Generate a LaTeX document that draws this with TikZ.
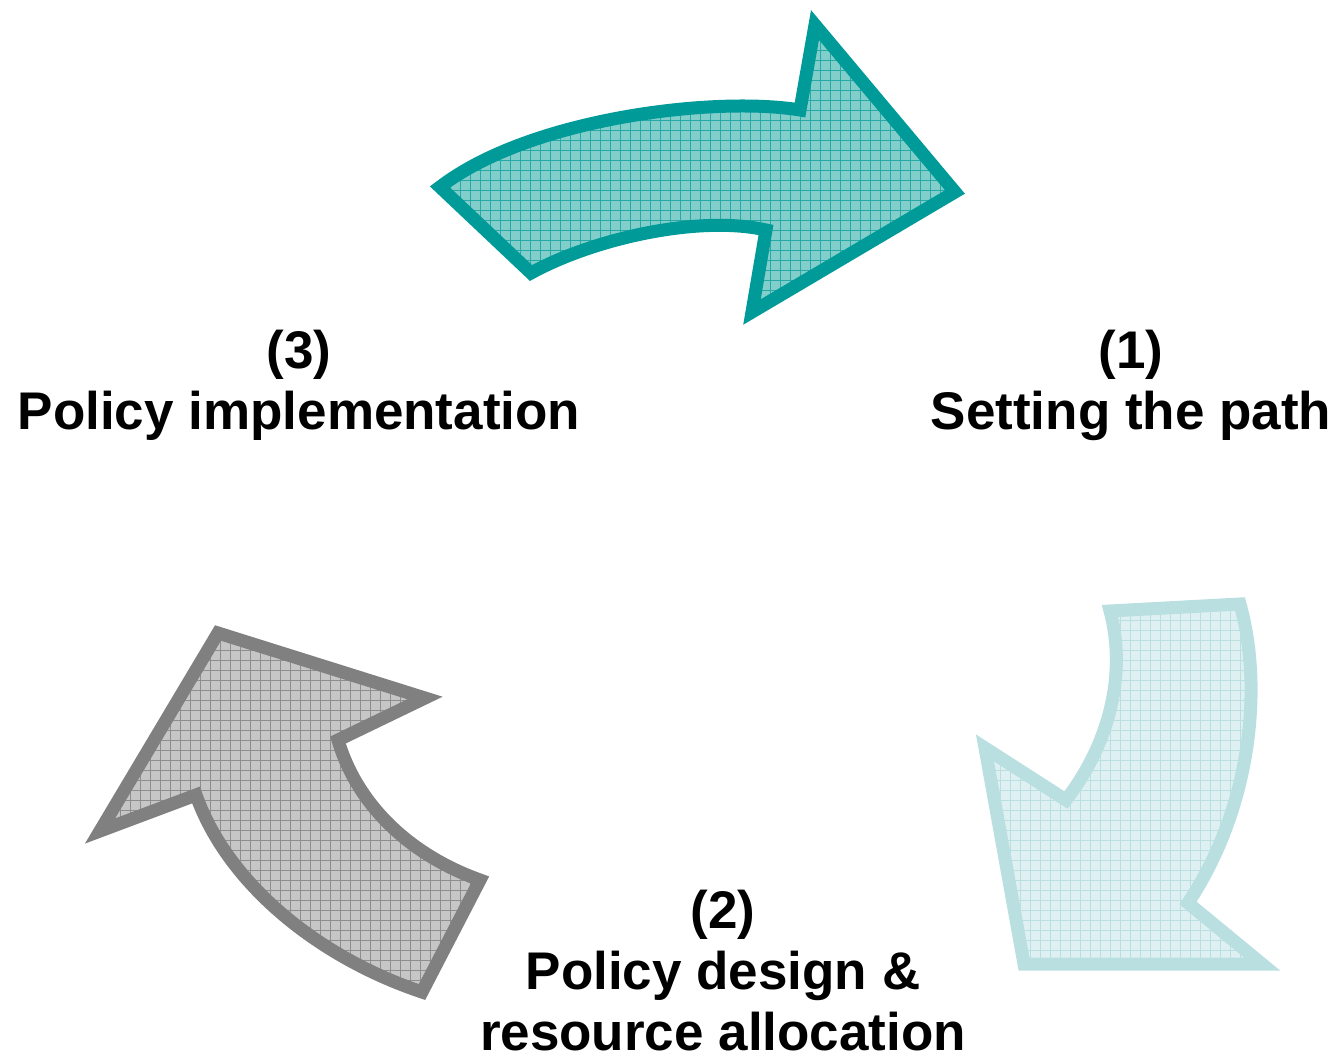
\documentclass[tikz,border=0pt]{standalone}
\usepackage{fontspec}
\setmainfont{Liberation Sans}
\definecolor{tealline}{RGB}{0,155,152}
\definecolor{tealfill}{RGB}{130,206,202}
\definecolor{paleline}{RGB}{186,223,225}
\definecolor{palefill}{RGB}{223,240,242}
\definecolor{greyline}{RGB}{128,128,128}
\definecolor{greyfill}{RGB}{198,198,198}

\newcommand{\gridarrow}[4]{%
    \fill[#3] #1;
    \begin{scope}
    \clip #1;
    \draw[#4, line width=0.4pt, step=5pt] (0,0) grid (1339,1058);
    \end{scope}
    \draw[#2, line width=6.5pt] #1;
}

\begin{document}
\begin{tikzpicture}[x=0.5pt, y=-0.5pt,
    steplabel/.style={font=\bfseries\fontsize{26.5}{30.5}\selectfont,
        align=center, inner sep=0pt, anchor=base}]
    \useasboundingbox (0,0) rectangle (1339,1058);

    % (1) -> (2): setting the path
    \gridarrow{(1110,611) -- (1240,604)
        .. controls (1264,690) and (1250,810) .. (1188,903)
        -- (1262,964) -- (1024,964) -- (985,748) -- (1066,800)
        .. controls (1112,740) and (1126,670) .. (1110,611) -- cycle}
        {paleline}{palefill}{paleline}

    % (2) -> (3): resource allocation
    \gridarrow{(218,633) -- (425,698) -- (338,740)
        .. controls (357,805) and (410,855) .. (480,880)
        -- (422,992)
        .. controls (320,958) and (228,885) .. (196,795)
        -- (100,831) -- cycle}
        {greyline}{greyfill}{greyline!80!greyfill}

    % (3) -> (1): implementation
    \gridarrow{(440,187) -- (531,273)
        .. controls (595,238) and (700,215) .. (766,230)
        -- (752,312) -- (955,192) -- (815,25) -- (800,110)
        .. controls (715,96) and (530,118) .. (440,187) -- cycle}
        {tealline}{tealfill}{tealline!70!tealfill}

    \node[steplabel] (path) at (1131,430) {(1)\\Setting the path};
    \node[steplabel] (design) at (723,1050) {(2)\\Policy design \&\\resource allocation};
    \node[steplabel] (implement) at (299,430) {(3)\\Policy implementation};
\end{tikzpicture}
\end{document}
